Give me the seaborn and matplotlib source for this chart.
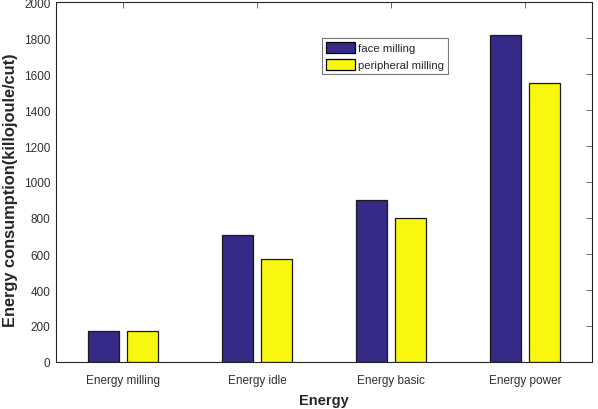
import matplotlib
matplotlib.use("Agg")
import matplotlib.pyplot as plt
import seaborn as sns
import pandas as pd

categories = ["Energy milling", "Energy idle", "Energy basic", "Energy power"]
face_milling = [172, 705, 898, 1815]
peripheral_milling = [172, 575, 800, 1548]
series_names = ["face milling", "peripheral milling"]
yticks = list(range(0, 2001, 200))

df = pd.DataFrame({
    "cat": categories * 2,
    "val": face_milling + peripheral_milling,
    "series": [series_names[0]] * 4 + [series_names[1]] * 4,
})

sns.set_style("white")
plt.rcParams["font.family"] = ["Liberation Sans", "DejaVu Sans"]

fig = plt.figure(figsize=(5.98, 4.10), dpi=100)
ax = fig.add_axes([56 / 598, 47 / 410, 536 / 598, 360 / 410])

palette = {series_names[0]: "#352a87", series_names[1]: "#f7f70f"}
sns.barplot(data=df, x="cat", y="val", hue="series", order=categories,
            hue_order=series_names, palette=palette, width=0.58, gap=0.2,
            edgecolor="#1a1a1a", linewidth=0.9, saturation=1, ax=ax)

ax.set_xlim(-0.5, 3.5)
ax.set_ylim(0, 2000)
ax.set_yticks(yticks)
ax.set_yticklabels([str(t) for t in yticks])
for s in ax.spines.values():
    s.set_visible(True)
    s.set_color("#262626")
    s.set_linewidth(0.8)
ax.tick_params(axis="both", direction="in", length=4, width=0.6, color="#555555",
               top=True, right=True, labelsize=8.5, labelcolor="#303030")
ax.tick_params(axis="x", pad=9)
ax.tick_params(axis="y", pad=4)
ax.set_xlabel("Energy", fontsize=10.5, fontweight="bold", color="#262626", labelpad=5)
ax.set_ylabel("")
fig.text(11 / 598, 1 - 190 / 410, "Energy consumption(killojoule/cut)",
         rotation=90, ha="center", va="center", fontsize=11.8, fontweight="bold",
         color="#262626")

leg = ax.legend(loc="upper left", bbox_to_anchor=((322 - 56) / 536, (363 - 39) / 360),
                fontsize=8.2, frameon=True, fancybox=False, edgecolor="#555555",
                handlelength=2.55, handleheight=1.15, handletextpad=0.25,
                borderpad=0.35, labelspacing=0.45, borderaxespad=0)
leg.get_frame().set_linewidth(0.8)
for h in leg.legend_handles:
    h.set_edgecolor("black")

fig.savefig("out.png", dpi=100)
